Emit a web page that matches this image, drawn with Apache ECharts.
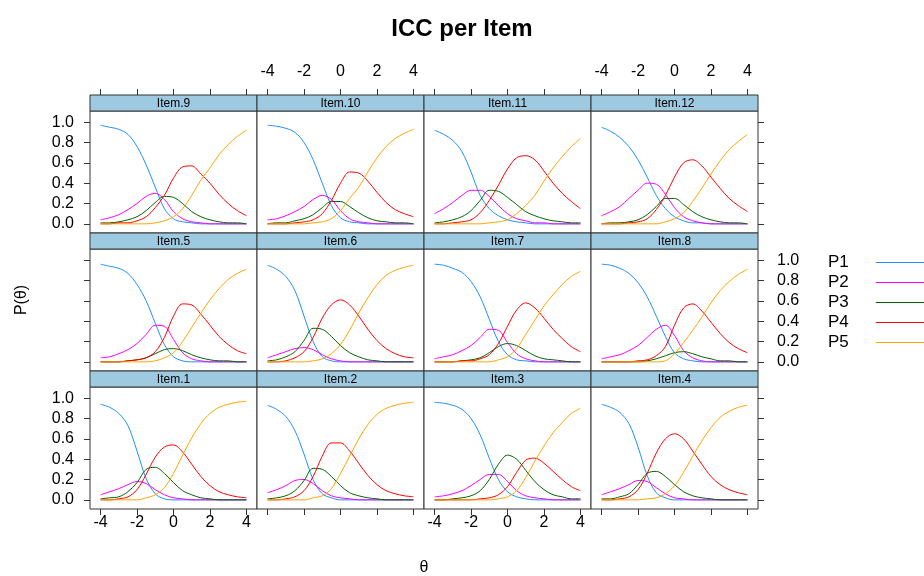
<!DOCTYPE html>
<html>
<head>
<meta charset="utf-8">
<title>ICC per Item</title>
<script src="https://cdn.jsdelivr.net/npm/echarts@6/dist/echarts.min.js"></script>
<style>
  html, body { margin: 0; background: #fff; }
  #main { width: 924px; height: 576px; }
</style>
</head>
<body>
<div id="main"></div>
<script>
// theta grid shared by every curve
const theta = [-4, -3.5, -3, -2.5, -2, -1.5, -1, -0.5, 0, 0.5, 1, 1.5, 2, 2.5, 3, 3.5, 4]
const xTicks = [-4, -2, 0, 2, 4]
const yTicks = [0, 0.2, 0.4, 0.6, 0.8, 1.0]
const categories = ['P1', 'P2', 'P3', 'P4', 'P5']

// each item: [P1, P2, P3, P4, P5]
const item9 = [
  [0.97, 0.95, 0.93, 0.88, 0.76, 0.58, 0.36, 0.15, 0.05, 0.02, 0.01, 0, 0, 0, 0, 0, 0],
  [0.04, 0.06, 0.09, 0.14, 0.20, 0.27, 0.30, 0.24, 0.12, 0.05, 0.02, 0.01, 0, 0, 0, 0, 0],
  [0.01, 0.01, 0.02, 0.04, 0.07, 0.13, 0.21, 0.27, 0.26, 0.20, 0.12, 0.07, 0.04, 0.02, 0.01, 0.01, 0],
  [0, 0, 0.01, 0.01, 0.03, 0.07, 0.16, 0.28, 0.45, 0.56, 0.57, 0.49, 0.40, 0.29, 0.20, 0.13, 0.08],
  [0, 0, 0, 0, 0, 0, 0.01, 0.03, 0.07, 0.15, 0.28, 0.43, 0.55, 0.68, 0.78, 0.86, 0.92]
]
const item10 = [
  [0.97, 0.96, 0.94, 0.90, 0.80, 0.63, 0.40, 0.18, 0.06, 0.02, 0.01, 0, 0, 0, 0, 0, 0],
  [0.04, 0.05, 0.08, 0.12, 0.17, 0.24, 0.28, 0.24, 0.13, 0.05, 0.02, 0.01, 0, 0, 0, 0, 0],
  [0, 0.01, 0.01, 0.03, 0.05, 0.09, 0.16, 0.22, 0.22, 0.17, 0.11, 0.06, 0.03, 0.02, 0.01, 0.01, 0],
  [0, 0, 0, 0.01, 0.02, 0.04, 0.10, 0.23, 0.40, 0.51, 0.50, 0.42, 0.31, 0.21, 0.14, 0.10, 0.07],
  [0, 0, 0, 0, 0, 0.01, 0.02, 0.05, 0.13, 0.25, 0.36, 0.51, 0.65, 0.76, 0.84, 0.89, 0.93]
]
const item11 = [
  [0.92, 0.88, 0.82, 0.71, 0.51, 0.28, 0.15, 0.08, 0.04, 0.02, 0.01, 0, 0, 0, 0, 0, 0],
  [0.10, 0.15, 0.21, 0.28, 0.33, 0.33, 0.27, 0.18, 0.10, 0.05, 0.03, 0.01, 0.01, 0, 0, 0, 0],
  [0.01, 0.02, 0.04, 0.07, 0.13, 0.23, 0.33, 0.32, 0.26, 0.19, 0.12, 0.08, 0.05, 0.03, 0.02, 0.01, 0.01],
  [0, 0, 0.01, 0.02, 0.04, 0.11, 0.23, 0.38, 0.54, 0.65, 0.67, 0.63, 0.52, 0.40, 0.30, 0.22, 0.15],
  [0, 0, 0, 0, 0, 0, 0.01, 0.02, 0.04, 0.10, 0.18, 0.28, 0.42, 0.55, 0.66, 0.76, 0.84]
]
const item12 = [
  [0.95, 0.91, 0.85, 0.76, 0.63, 0.46, 0.28, 0.15, 0.07, 0.03, 0.01, 0.01, 0, 0, 0, 0, 0],
  [0.08, 0.12, 0.17, 0.25, 0.33, 0.40, 0.39, 0.29, 0.16, 0.07, 0.03, 0.01, 0, 0, 0, 0, 0],
  [0, 0.01, 0.01, 0.02, 0.04, 0.09, 0.17, 0.25, 0.25, 0.19, 0.12, 0.07, 0.04, 0.02, 0.01, 0.01, 0],
  [0, 0, 0, 0.01, 0.02, 0.05, 0.14, 0.28, 0.46, 0.60, 0.63, 0.57, 0.46, 0.35, 0.25, 0.18, 0.12],
  [0, 0, 0, 0, 0, 0, 0, 0.02, 0.05, 0.11, 0.22, 0.35, 0.49, 0.62, 0.73, 0.81, 0.88]
]
const item5 = [
  [0.96, 0.94, 0.92, 0.87, 0.76, 0.60, 0.38, 0.17, 0.05, 0.01, 0, 0, 0, 0, 0, 0, 0],
  [0.04, 0.05, 0.08, 0.12, 0.18, 0.27, 0.36, 0.35, 0.22, 0.09, 0.03, 0.01, 0, 0, 0, 0, 0],
  [0, 0, 0, 0.01, 0.02, 0.04, 0.08, 0.12, 0.13, 0.11, 0.07, 0.04, 0.02, 0.01, 0.01, 0, 0],
  [0, 0, 0, 0.01, 0.02, 0.04, 0.10, 0.24, 0.45, 0.57, 0.56, 0.47, 0.36, 0.25, 0.17, 0.11, 0.08],
  [0, 0, 0, 0, 0, 0, 0.01, 0.04, 0.09, 0.20, 0.34, 0.48, 0.61, 0.72, 0.81, 0.87, 0.91]
]
const item6 = [
  [0.95, 0.91, 0.84, 0.70, 0.45, 0.20, 0.05, 0.01, 0, 0, 0, 0, 0, 0, 0, 0, 0],
  [0.04, 0.07, 0.10, 0.13, 0.14, 0.12, 0.07, 0.03, 0.01, 0, 0, 0, 0, 0, 0, 0, 0],
  [0.01, 0.02, 0.05, 0.10, 0.21, 0.33, 0.32, 0.25, 0.16, 0.09, 0.05, 0.02, 0.01, 0, 0, 0, 0],
  [0, 0, 0.01, 0.04, 0.10, 0.24, 0.43, 0.56, 0.61, 0.56, 0.45, 0.32, 0.21, 0.13, 0.08, 0.05, 0.04],
  [0, 0, 0, 0, 0, 0.01, 0.03, 0.08, 0.17, 0.31, 0.48, 0.63, 0.76, 0.85, 0.90, 0.93, 0.95]
]
const item7 = [
  [0.96, 0.95, 0.92, 0.88, 0.79, 0.64, 0.42, 0.20, 0.07, 0.02, 0.01, 0, 0, 0, 0, 0, 0],
  [0.03, 0.05, 0.07, 0.11, 0.16, 0.24, 0.32, 0.31, 0.19, 0.08, 0.03, 0.01, 0, 0, 0, 0, 0],
  [0, 0, 0, 0.01, 0.02, 0.04, 0.09, 0.15, 0.18, 0.16, 0.11, 0.06, 0.03, 0.02, 0.01, 0, 0],
  [0, 0, 0, 0.01, 0.01, 0.03, 0.07, 0.18, 0.35, 0.51, 0.58, 0.53, 0.43, 0.32, 0.23, 0.15, 0.10],
  [0, 0, 0, 0, 0, 0, 0, 0.02, 0.05, 0.13, 0.27, 0.41, 0.55, 0.66, 0.76, 0.84, 0.89]
]
const item8 = [
  [0.96, 0.95, 0.92, 0.87, 0.78, 0.64, 0.45, 0.25, 0.09, 0.03, 0.01, 0, 0, 0, 0, 0, 0],
  [0.03, 0.05, 0.07, 0.11, 0.16, 0.24, 0.32, 0.36, 0.26, 0.11, 0.04, 0.01, 0, 0, 0, 0, 0],
  [0, 0, 0, 0, 0, 0.01, 0.03, 0.06, 0.09, 0.10, 0.08, 0.05, 0.03, 0.01, 0.01, 0, 0],
  [0, 0, 0, 0, 0.01, 0.02, 0.06, 0.15, 0.36, 0.53, 0.57, 0.50, 0.39, 0.28, 0.19, 0.13, 0.09],
  [0, 0, 0, 0, 0, 0, 0, 0.01, 0.08, 0.19, 0.31, 0.44, 0.58, 0.70, 0.79, 0.86, 0.91]
]
const item1 = [
  [0.94, 0.91, 0.85, 0.73, 0.48, 0.21, 0.06, 0.01, 0, 0, 0, 0, 0, 0, 0, 0, 0],
  [0.05, 0.08, 0.11, 0.15, 0.18, 0.16, 0.10, 0.05, 0.02, 0.01, 0, 0, 0, 0, 0, 0, 0],
  [0.01, 0.02, 0.03, 0.08, 0.17, 0.30, 0.32, 0.26, 0.17, 0.09, 0.05, 0.02, 0.01, 0, 0, 0, 0],
  [0, 0, 0.01, 0.03, 0.10, 0.25, 0.42, 0.52, 0.54, 0.47, 0.35, 0.23, 0.14, 0.08, 0.05, 0.03, 0.02],
  [0, 0, 0, 0, 0, 0.02, 0.05, 0.12, 0.26, 0.44, 0.61, 0.75, 0.85, 0.91, 0.94, 0.96, 0.97]
]
const item2 = [
  [0.93, 0.89, 0.82, 0.68, 0.45, 0.20, 0.06, 0.02, 0, 0, 0, 0, 0, 0, 0, 0, 0],
  [0.07, 0.10, 0.14, 0.19, 0.20, 0.16, 0.09, 0.04, 0.02, 0.01, 0, 0, 0, 0, 0, 0, 0],
  [0.01, 0.02, 0.04, 0.09, 0.19, 0.31, 0.30, 0.23, 0.14, 0.07, 0.04, 0.02, 0.01, 0, 0, 0, 0],
  [0, 0, 0.01, 0.03, 0.09, 0.23, 0.43, 0.56, 0.56, 0.48, 0.36, 0.24, 0.15, 0.09, 0.06, 0.04, 0.03],
  [0, 0, 0, 0, 0, 0.02, 0.04, 0.11, 0.26, 0.43, 0.60, 0.74, 0.84, 0.90, 0.93, 0.95, 0.96]
]
const item3 = [
  [0.96, 0.95, 0.93, 0.89, 0.80, 0.64, 0.41, 0.20, 0.08, 0.03, 0.01, 0, 0, 0, 0, 0, 0],
  [0.03, 0.04, 0.06, 0.09, 0.14, 0.20, 0.25, 0.25, 0.18, 0.09, 0.04, 0.02, 0.01, 0, 0, 0, 0],
  [0, 0, 0.01, 0.02, 0.04, 0.09, 0.20, 0.35, 0.44, 0.40, 0.29, 0.18, 0.10, 0.05, 0.03, 0.01, 0.01],
  [0, 0, 0, 0, 0, 0.01, 0.02, 0.05, 0.13, 0.27, 0.39, 0.41, 0.36, 0.28, 0.20, 0.13, 0.09],
  [0, 0, 0, 0, 0, 0, 0, 0.01, 0.03, 0.09, 0.22, 0.38, 0.53, 0.66, 0.76, 0.85, 0.90]
]
const item4 = [
  [0.94, 0.91, 0.86, 0.75, 0.52, 0.24, 0.07, 0.02, 0, 0, 0, 0, 0, 0, 0, 0, 0],
  [0.05, 0.08, 0.11, 0.15, 0.19, 0.18, 0.12, 0.06, 0.02, 0.01, 0, 0, 0, 0, 0, 0, 0],
  [0.01, 0.01, 0.03, 0.06, 0.15, 0.26, 0.28, 0.23, 0.15, 0.08, 0.04, 0.02, 0.01, 0, 0, 0, 0],
  [0, 0, 0.01, 0.03, 0.10, 0.26, 0.46, 0.60, 0.65, 0.60, 0.48, 0.35, 0.23, 0.15, 0.10, 0.07, 0.05],
  [0, 0, 0, 0, 0, 0.01, 0.02, 0.06, 0.14, 0.27, 0.43, 0.58, 0.71, 0.81, 0.87, 0.91, 0.93]
]

// panels in lattice order, top-left to bottom-right
const panelNames = ['Item.9', 'Item.10', 'Item.11', 'Item.12', 'Item.5', 'Item.6', 'Item.7', 'Item.8', 'Item.1', 'Item.2', 'Item.3', 'Item.4']
const panelData = [item9, item10, item11, item12, item5, item6, item7, item8, item1, item2, item3, item4]

const colors = ['#1E90FF', '#FF00FF', '#006400', '#FF0000', '#FFA500']
const font = 'Liberation Sans, Arial, sans-serif'

const colLeft = [90, 257, 424, 591]
const rowTop = [95, 233, 371]
const panelW = 167
const stripH = 16
const plotH = 122
const xMin = -4.58, xMax = 4.58
const yMin = -0.09, yMax = 1.11

const chart = echarts.init(document.getElementById('main'))

const grid = []
const xAxis = []
const yAxis = []
const series = []
const graphic = []

const tickStyle = { show: true, inside: false, length: 6, lineStyle: { color: '#333', width: 1 } }
const labelStyle = { color: '#000', fontSize: 16, fontFamily: font }
const noLine = { show: false, onZero: false }

panelNames.forEach((name, i) => {
  const r = Math.floor(i / 4)
  const c = i % 4
  grid.push({
    left: colLeft[c], top: rowTop[r] + stripH, width: panelW, height: plotH,
    show: true, borderColor: '#333', borderWidth: 1, backgroundColor: '#fff'
  })

  // bottom x axis (carries the data) - ticks only on the last row
  xAxis.push({
    type: 'value', gridIndex: i, position: 'bottom', min: xMin, max: xMax,
    show: r === 2,
    axisLine: noLine, splitLine: { show: false },
    axisTick: Object.assign({ customValues: xTicks }, tickStyle),
    axisLabel: Object.assign({ show: c % 2 === 0, customValues: xTicks, margin: 6 }, labelStyle)
  })
  // top x axis, sits above the strip on the first row
  xAxis.push({
    type: 'value', gridIndex: i, position: 'top', offset: stripH, min: xMin, max: xMax,
    show: r === 0,
    axisLine: noLine, splitLine: { show: false },
    axisTick: Object.assign({ customValues: xTicks }, tickStyle),
    axisLabel: Object.assign({ show: c % 2 === 1, customValues: xTicks, margin: 15 }, labelStyle)
  })
  // left y axis (carries the data)
  yAxis.push({
    type: 'value', gridIndex: i, position: 'left', min: yMin, max: yMax,
    show: c === 0,
    axisLine: noLine, splitLine: { show: false },
    axisTick: Object.assign({ customValues: yTicks }, tickStyle),
    axisLabel: Object.assign({ show: r !== 1, customValues: yTicks, margin: 16,
      formatter: v => v.toFixed(1) }, labelStyle)
  })
  // right y axis
  yAxis.push({
    type: 'value', gridIndex: i, position: 'right', min: yMin, max: yMax,
    show: c === 3,
    axisLine: noLine, splitLine: { show: false },
    axisTick: Object.assign({ customValues: yTicks }, tickStyle),
    axisLabel: Object.assign({ show: r === 1, customValues: yTicks, margin: 19,
      formatter: v => v.toFixed(1) }, labelStyle)
  })

  panelData[i].forEach((vals, k) => {
    series.push({
      type: 'line',
      name: categories[k],
      xAxisIndex: i * 2,
      yAxisIndex: i * 2,
      data: theta.map((t, j) => [t, vals[j]]),
      symbol: 'none',
      smooth: 0.35,
      color: colors[k],
      lineStyle: { width: 1, color: colors[k] },
      silent: true
    })
  })

  // strip with the panel name
  graphic.push({
    type: 'rect',
    shape: { x: colLeft[c], y: rowTop[r], width: panelW, height: stripH },
    style: { fill: '#9ecae1', stroke: '#333', lineWidth: 1 }
  })
  graphic.push({
    type: 'text',
    x: colLeft[c] + panelW / 2, y: rowTop[r] + stripH / 2 + 1,
    style: { text: name, fill: '#000', font: '12px ' + font, align: 'center', verticalAlign: 'middle' }
  })
})

graphic.push({
  type: 'text', x: 22, y: 300, rotation: Math.PI / 2,
  style: { text: 'P(θ)', fill: '#000', font: '16px ' + font, align: 'center', verticalAlign: 'middle' }
})
graphic.push({
  type: 'text', x: 424, y: 568,
  style: { text: 'θ', fill: '#000', font: '16px ' + font, align: 'center', verticalAlign: 'middle' }
})

chart.setOption({
  animation: false,
  backgroundColor: '#fff',
  title: {
    text: 'ICC per Item',
    left: 'center',
    top: 12,
    textStyle: { fontSize: 24, fontWeight: 'bold', color: '#000', fontFamily: font }
  },
  legend: {
    data: categories,
    orient: 'vertical',
    left: 828,
    top: 254,
    padding: 0,
    align: 'right',
    itemWidth: 55,
    itemHeight: 14,
    itemGap: 3,
    itemStyle: { opacity: 0 },
    lineStyle: { width: 1 },
    textStyle: { fontSize: 17, color: '#000', fontFamily: font, padding: [0, 22, 0, 0] }
  },
  grid: grid,
  xAxis: xAxis,
  yAxis: yAxis,
  series: series,
  graphic: graphic
})
</script>
</body>
</html>
